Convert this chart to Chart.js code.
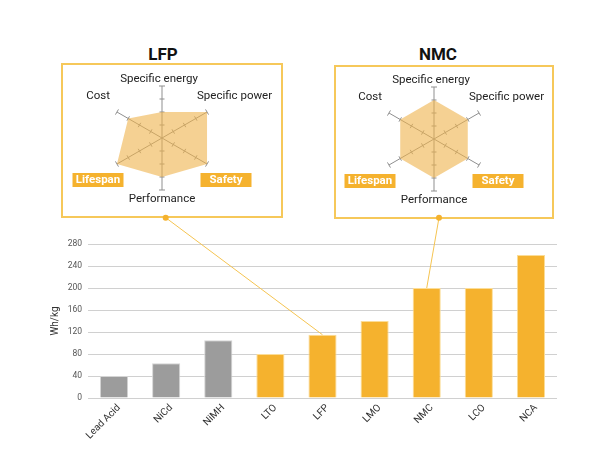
<!DOCTYPE html>
<html>
<head>
<meta charset="utf-8">
<script src="https://cdn.jsdelivr.net/npm/chart.js@4.4.1/dist/chart.umd.min.js"></script>
<style>
  html, body { margin: 0; padding: 0; background: #ffffff; }
  #page { position: relative; width: 600px; height: 450px; overflow: hidden; font-family: Roboto, "Noto Sans", sans-serif; }
  .box { position: absolute; box-sizing: border-box; border: 2px solid #F6C85A; }
  .title { position: absolute; width: 100px; text-align: center; font: bold 17px Roboto, sans-serif; color: #111; line-height: 20px; }
  canvas { position: absolute; }
</style>
</head>
<body>
<div id="page">
  <div class="box" style="left:61px;top:63px;width:222px;height:155px;"></div>
  <div class="box" style="left:334px;top:65px;width:220px;height:154px;"></div>
  <div class="title" style="left:113px;top:44px;">LFP</div>
  <div class="title" style="left:388px;top:44px;">NMC</div>
  <canvas id="radarLFP" width="220" height="153" style="left:62px;top:64px;"></canvas>
  <canvas id="radarNMC" width="218" height="152" style="left:335px;top:66px;"></canvas>
  <canvas id="bars" width="600" height="450" style="left:0;top:0;z-index:2;"></canvas>
</div>
<script>
// ---- data ----
const categories = ['Lead Acid', 'NiCd', 'NiMH', 'LTO', 'LFP', 'LMO', 'NMC', 'LCO', 'NCA'];
const energyDensity = [40, 63, 105, 80, 115, 140, 200, 200, 260];
const legacyCount = 3; // first three chemistries drawn in gray
const yTicks = { min: 0, max: 280, step: 40 };
const yTitle = 'Wh/kg';

const radarAxes = ['Specific energy', 'Specific power', 'Safety', 'Performance', 'Lifespan', 'Cost'];
const highlightedAxes = ['Safety', 'Lifespan'];
const lfpScores = [2, 4, 4, 3, 4, 3];
const nmcScores = [3, 3, 3, 3, 3, 3];
const scoreMax = 4;

// ---- styles ----
const ORANGE = '#F5B22E';
const GRAY = '#9C9C9C';
const FONT = 'Roboto';
const SPOKE = '#8f8f8f';

// Decoration for radar insets: tick marks across spokes and axis labels
const radarDeco = {
  id: 'radarDeco',
  beforeDatasetsDraw(chart) {
    const s = chart.scales.r, ctx = chart.ctx;
    ctx.save();
    ctx.strokeStyle = SPOKE;
    ctx.lineWidth = 1;
    for (let i = 0; i < radarAxes.length; i++) {
      const a = s.getIndexAngle(i) - Math.PI / 2;
      const px = -Math.sin(a), py = Math.cos(a);
      for (let v = 1; v <= scoreMax; v++) {
        const p = s.getPointPosition(i, s.getDistanceFromCenterForValue(v));
        const h = v === scoreMax ? 3 : 2.5;
        ctx.beginPath();
        ctx.moveTo(p.x - px * h, p.y - py * h);
        ctx.lineTo(p.x + px * h, p.y + py * h);
        ctx.stroke();
      }
    }
    ctx.restore();
  },
  afterDraw(chart) {
    const s = chart.scales.r, ctx = chart.ctx;
    const cx = s.xCenter, cy = s.yCenter, r = s.drawingArea;
    ctx.save();
    radarAxes.forEach((label, i) => {
      if (highlightedAxes.includes(label)) {
        const left = i === 2 ? cx + 38.5 : cx - 89.5;
        const top = cy + 35, w = 51, h = 14;
        ctx.fillStyle = ORANGE;
        ctx.fillRect(left, top, w, h);
        ctx.fillStyle = '#ffffff';
        ctx.font = 'bold 11.5px ' + FONT;
        ctx.textAlign = 'center';
        ctx.textBaseline = 'middle';
        ctx.fillText(label, left + w / 2, top + h / 2 + 0.5);
        return;
      }
      ctx.fillStyle = '#222';
      ctx.font = '11.5px ' + FONT;
      if (i === 0) {
        ctx.textAlign = 'center'; ctx.textBaseline = 'bottom';
        ctx.fillText(label, cx - 3, cy - r - 1);
      } else if (i === 1) {
        ctx.textAlign = 'left'; ctx.textBaseline = 'middle';
        ctx.fillText(label, cx + 35, cy - 42);
      } else if (i === 3) {
        ctx.textAlign = 'center'; ctx.textBaseline = 'top';
        ctx.fillText(label, cx, cy + r + 3);
      } else if (i === 5) {
        ctx.textAlign = 'right'; ctx.textBaseline = 'middle';
        ctx.fillText(label, cx - 52, cy - 42);
      }
    });
    ctx.restore();
  }
};

function radarConfig(scores, pad) {
  return {
    type: 'radar',
    data: {
      labels: radarAxes,
      datasets: [{
        data: scores,
        fill: true,
        backgroundColor: 'rgba(238,178,75,0.6)',
        borderColor: 'rgba(0,0,0,0)',
        borderWidth: 0,
        pointRadius: 0
      }]
    },
    options: {
      responsive: false,
      animation: false,
      layout: { padding: pad },
      plugins: { legend: { display: false }, tooltip: { enabled: false } },
      scales: {
        r: {
          min: 0, max: scoreMax,
          ticks: { display: false, stepSize: 1 },
          grid: { display: false },
          angleLines: { display: true, color: SPOKE, lineWidth: 1 },
          pointLabels: { display: false }
        }
      }
    },
    plugins: [radarDeco]
  };
}

new Chart(document.getElementById('radarLFP'), radarConfig(lfpScores, { left: 48, right: 68, top: 22, bottom: 27 }));
new Chart(document.getElementById('radarNMC'), radarConfig(nmcScores, { left: 47, right: 67, top: 21, bottom: 27 }));

// Links from inset boxes to their bars
const insetLinks = [
  { category: 'LFP', x: 165.7, y: 217.7 },
  { category: 'NMC', x: 439, y: 217.7 }
];

const connectors = {
  id: 'connectors',
  afterDatasetsDraw(chart) {
    const meta = chart.getDatasetMeta(0);
    const ctx = chart.ctx;
    insetLinks.forEach(link => {
      const bar = meta.data[categories.indexOf(link.category)];
      ctx.save();
      ctx.strokeStyle = '#F5C451';
      ctx.lineWidth = 1;
      ctx.beginPath();
      ctx.moveTo(link.x, link.y);
      ctx.lineTo(bar.x, bar.y);
      ctx.stroke();
      ctx.fillStyle = ORANGE;
      ctx.beginPath();
      ctx.arc(link.x, link.y, 3, 0, Math.PI * 2);
      ctx.fill();
      ctx.restore();
    });
  }
};

new Chart(document.getElementById('bars'), {
  type: 'bar',
  data: {
    labels: categories,
    datasets: [{
      data: energyDensity,
      backgroundColor: categories.map((c, i) => i < legacyCount ? GRAY : ORANGE),
      borderColor: categories.map((c, i) => i < legacyCount ? '#d4d4d4' : '#FBDD98'),
      borderWidth: 1,
      barPercentage: 0.54,
      categoryPercentage: 1
    }]
  },
  options: {
    responsive: false,
    animation: false,
    layout: { padding: { left: 44, right: 43, top: 244, bottom: 0 } },
    plugins: { legend: { display: false }, tooltip: { enabled: false } },
    scales: {
      x: {
        grid: { display: false, drawTicks: false },
        border: { display: false },
        ticks: { minRotation: 45, maxRotation: 45, color: '#333', padding: 4, labelOffset: 5, font: { family: FONT, size: 10 } },
        afterFit(s) { s.height = 52; }
      },
      y: {
        min: yTicks.min, max: yTicks.max,
        ticks: { stepSize: yTicks.step, color: '#555', padding: 6, font: { family: FONT, size: 8.5 } },
        grid: { color: '#d0d0d0', drawTicks: false },
        border: { display: false },
        title: { display: true, text: yTitle, color: '#333', padding: { top: 5, bottom: 4 }, font: { family: FONT, size: 10 } },
        afterFit(s) { s.width = 44; }
      }
    }
  },
  plugins: [connectors]
});
</script>
</body>
</html>
